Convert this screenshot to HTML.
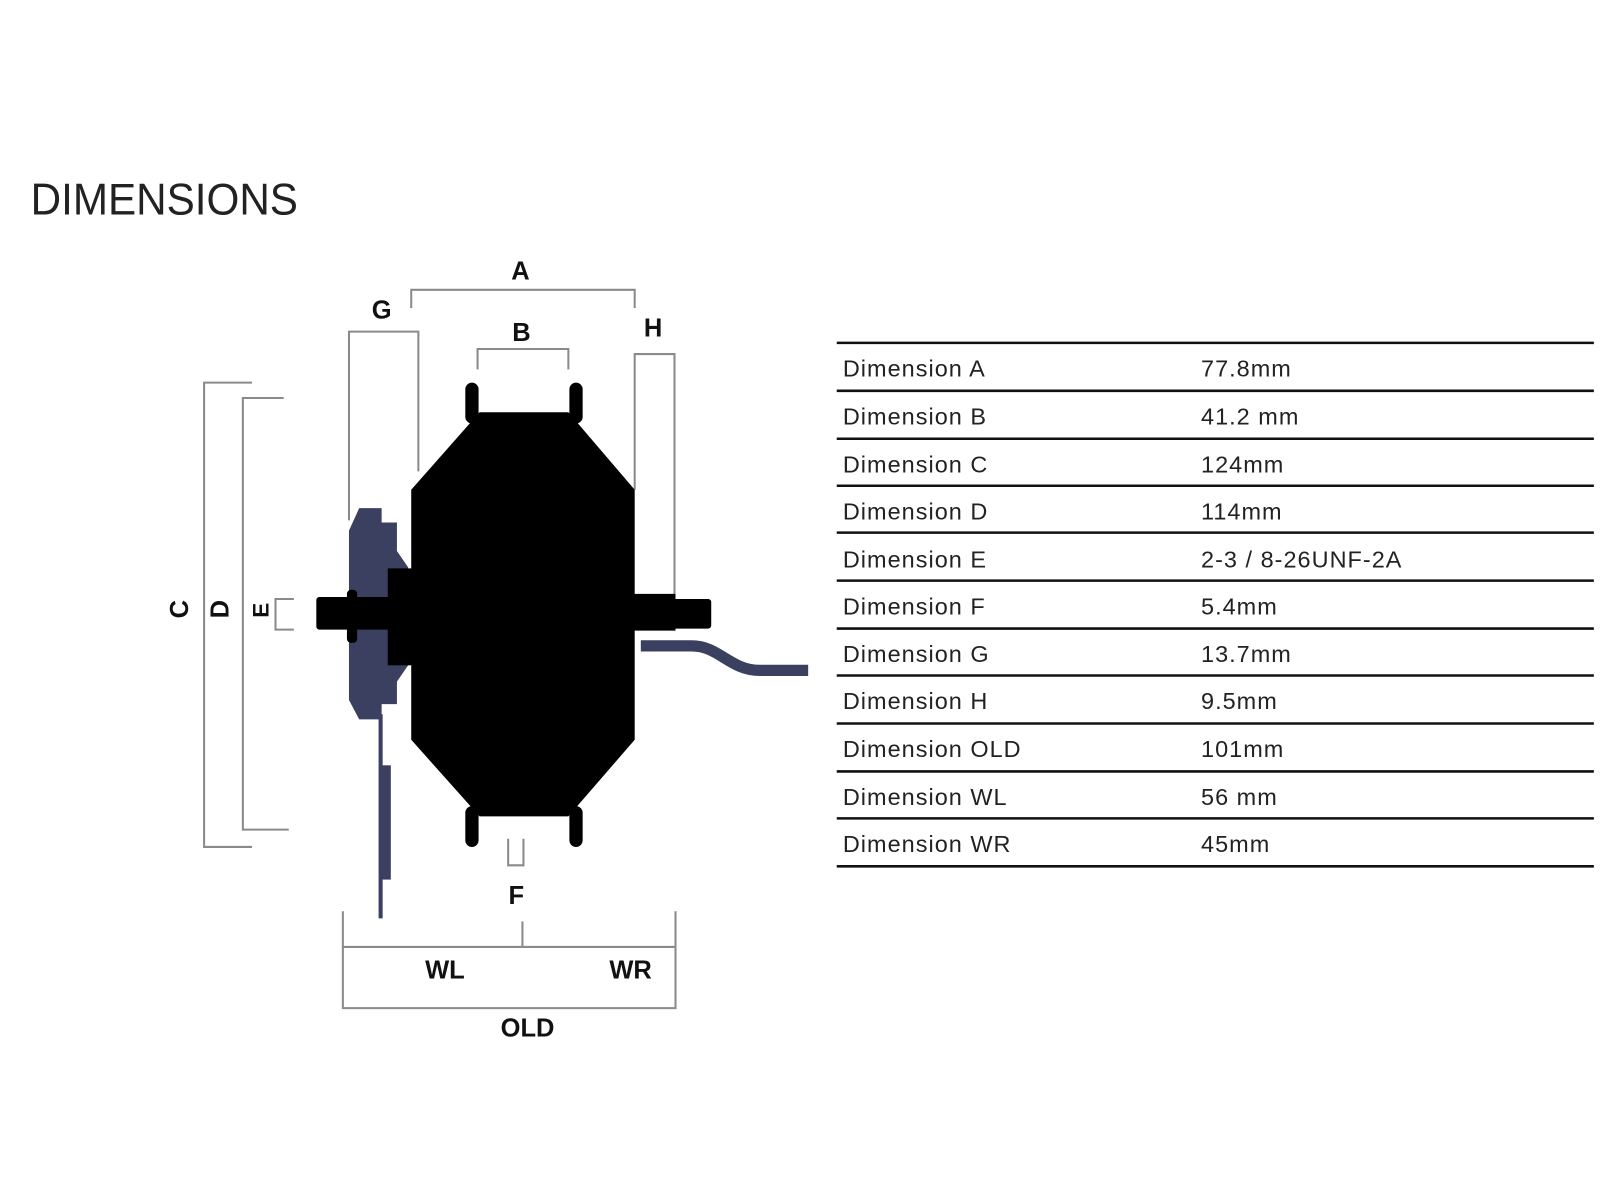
<!DOCTYPE html>
<html><head><meta charset="utf-8"><style>
html,body{margin:0;padding:0;background:#fff;width:1600px;height:1200px;overflow:hidden}
svg{display:block}
</style></head><body>
<svg width="1600" height="1200" viewBox="0 0 1568 1176" xmlns="http://www.w3.org/2000/svg">
<rect width="1568" height="1176" fill="#fff"/>
<text x="30" y="210" font-family="Liberation Sans, sans-serif" font-size="44" fill="#222" textLength="262" lengthAdjust="spacingAndGlyphs">DIMENSIONS</text>

<g fill="none" stroke="#8a8a8a" stroke-width="2">
<polyline points="403,302 403,284 622,284 622,302"/>
<polyline points="342,510 342,325 410,325 410,462"/>
<polyline points="468,362 468,342 557,342 557,362"/>
<polyline points="622,480 622,347 661,347 661,585"/>
<polyline points="247,375 200,375 200,830 247,830"/>
<polyline points="278,390 238,390 238,813 283,813"/>
<polyline points="288,587 270,587 270,617 288,617"/>
<polyline points="498,822 498,848 513,848 513,822"/>
<polyline points="336,893 336,988 662,988 662,893"/>
<line x1="336" y1="928" x2="662" y2="928"/>
<line x1="512" y1="903" x2="512" y2="928"/>
</g>

<polygon fill="#3b4060" points="352,498 374,498 374,512 389,512 389,540 400,556 400,652 389,668 389,690 374,690 374,705 352,705 342,686 342,520"/>
<line x1="373" y1="700" x2="373" y2="900" stroke="#3b4060" stroke-width="4"/>
<rect x="374" y="750" width="9" height="112" fill="#3b4060"/>

<path d="M628,633 L678,633 C705,633 715,657 745,657 L792,657" fill="none" stroke="#3b4060" stroke-width="11"/>

<g fill="#000">
<polygon points="470,404 557,404 622,480 622,725 557,800 470,800 403,725 403,480"/>
<rect x="456" y="375" width="13" height="40" rx="6.5"/>
<rect x="558" y="375" width="13" height="40" rx="6.5"/>
<rect x="456" y="790" width="13" height="40" rx="6.5"/>
<rect x="558" y="790" width="13" height="40" rx="6.5"/>
<rect x="310" y="585" width="100" height="32" rx="3"/>
<rect x="380" y="557" width="25" height="95"/>
<rect x="340" y="578" width="10" height="52" rx="4"/>
<rect x="600" y="582" width="62" height="36"/>
<rect x="650" y="587" width="47" height="29" rx="3"/>
</g>

<g font-family="Liberation Sans, sans-serif" font-weight="bold" font-size="25" fill="#111" text-anchor="middle">
<text x="510" y="274">A</text>
<text x="374" y="312">G</text>
<text x="511" y="334">B</text>
<text x="640" y="330">H</text>
<text x="506" y="886">F</text>
<text x="436" y="959">WL</text>
<text x="618" y="959">WR</text>
<text x="517" y="1016">OLD</text>
<text transform="translate(184,597) rotate(-90)">C</text>
<text transform="translate(224,597) rotate(-90)">D</text>
<text transform="translate(263,598) rotate(-90)" font-size="22">E</text>
</g>

<g stroke="#111" stroke-width="2.5">
<line x1="820" y1="336" x2="1562" y2="336"/>
<line x1="820" y1="383" x2="1562" y2="383"/>
<line x1="820" y1="430" x2="1562" y2="430"/>
<line x1="820" y1="476" x2="1562" y2="476"/>
<line x1="820" y1="522" x2="1562" y2="522"/>
<line x1="820" y1="569" x2="1562" y2="569"/>
<line x1="820" y1="616" x2="1562" y2="616"/>
<line x1="820" y1="662" x2="1562" y2="662"/>
<line x1="820" y1="709" x2="1562" y2="709"/>
<line x1="820" y1="756" x2="1562" y2="756"/>
<line x1="820" y1="802" x2="1562" y2="802"/>
<line x1="820" y1="849" x2="1562" y2="849"/>
</g>
<g font-family="Liberation Sans, sans-serif" font-size="23" fill="#222" letter-spacing="1">
<text x="826" y="369">Dimension A</text><text x="1177" y="369">77.8mm</text>
<text x="826" y="416">Dimension B</text><text x="1177" y="416">41.2 mm</text>
<text x="826" y="463">Dimension C</text><text x="1177" y="463">124mm</text>
<text x="826" y="509">Dimension D</text><text x="1177" y="509">114mm</text>
<text x="826" y="556">Dimension E</text><text x="1177" y="556">2-3 / 8-26UNF-2A</text>
<text x="826" y="602">Dimension F</text><text x="1177" y="602">5.4mm</text>
<text x="826" y="649">Dimension G</text><text x="1177" y="649">13.7mm</text>
<text x="826" y="695">Dimension H</text><text x="1177" y="695">9.5mm</text>
<text x="826" y="742">Dimension OLD</text><text x="1177" y="742">101mm</text>
<text x="826" y="789">Dimension WL</text><text x="1177" y="789">56 mm</text>
<text x="826" y="835">Dimension WR</text><text x="1177" y="835">45mm</text>
</g>
</svg>
</body></html>
